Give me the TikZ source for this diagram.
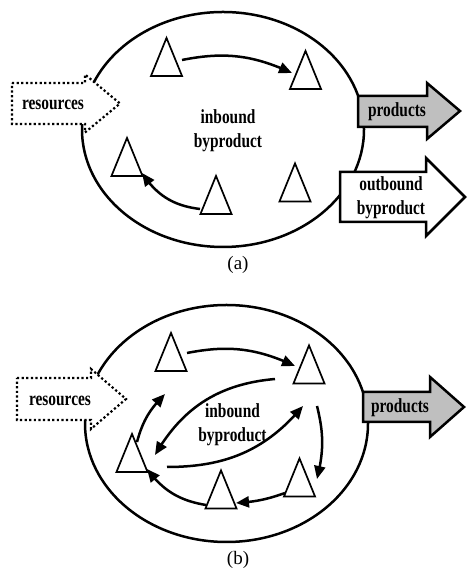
\documentclass[tikz,border=0pt]{standalone}
\usepackage{fontspec}
\setmainfont{Liberation Serif}
\newfontfamily\labfont[FakeStretch=0.77]{Liberation Serif}
\usetikzlibrary{arrows.meta,shapes.geometric,calc,bending}

\begin{document}
\begin{tikzpicture}[x=1pt,y=1pt,
  system/.style={draw, line width=2.5pt, ellipse, inner sep=0pt},
  tri/.style={draw, line width=1.7pt, fill=white, isosceles triangle,
    shape border rotate=90, isosceles triangle stretches,
    minimum width=31pt, minimum height=38pt, inner sep=0pt},
  flow/.style={line width=2.5pt, -{Triangle[length=13pt,width=11pt]}},
  lbl/.style={font=\labfont\bfseries\fontsize{20}{24}\selectfont, align=center, inner sep=0pt},
  subcaption/.style={font=\fontsize{19}{22}\selectfont, inner sep=0pt},
  inflow/.style={draw, line width=2.2pt, dash pattern=on 2.2pt off 2.4pt, fill=white},
  outflow/.style={draw, line width=2.5pt, fill=white, line join=miter},
  prodflow/.style={outflow, fill=gray!50},
]
\useasboundingbox (0,0) rectangle (466,569);

% ---------------- (a) open system ----------------
\node[system, minimum width=282pt, minimum height=235pt] (sysa) at (223,439.5) {};

\node[tri] (a1) at (166.5,503.5) {};
\node[tri] (a2) at (305.5,490.5) {};
\node[tri] (a3) at (127,403.5) {};
\node[tri] (a4) at (216,365.5) {};
\node[tri] (a5) at (295,378) {};

\draw[flow] ($(a1)+(15.5,5.5)$) to[bend left=18] ($(a2)+(-13.5,5.5)$);
\draw[flow] ($(a4)+(-16,-5.5)$) to[bend left=25] ($(a3)+(15,-7.5)$);

\node[lbl] (ina) at (228,438) {inbound\\byproduct};

% resources entering
\path[inflow] (12,486) -- (85,486) -- (85,494.5) -- (120,465.5)
  -- (85,436.5) -- (85,445) -- (12,445) -- cycle;
\node[lbl] (resa) at (53,464) {resources};

% products leaving
\path[prodflow] (358,473) -- (427,473) -- (427,486) -- (460,458)
  -- (427,430) -- (427,442) -- (358,442) -- cycle;
\node[lbl] (proda) at (397,457) {products};

% outbound byproduct leaving
\path[outflow] (340,397) -- (426,397) -- (426,411) -- (465,372)
  -- (426,333) -- (426,347) -- (340,347) -- cycle;
\node[lbl] (outa) at (391,371) {outbound\\byproduct};

\node[subcaption] (capa) at (238,304) {(a)};

% ---------------- (b) closed loop system ----------------
\node[system, minimum width=283pt, minimum height=237pt] (sysb) at (226.5,145.5) {};

\node[tri] (b1) at (171,208.5) {};
\node[tri] (b2) at (309,196) {};
\node[tri] (b3) at (132,107.5) {};
\node[tri] (b4) at (221,71) {};
\node[tri] (b5) at (299.5,83) {};

\draw[flow] ($(b1)+(16,7.5)$) to[bend left=18] ($(b2)+(-14,7)$);
\draw[flow] ($(b2)+(8,-33)$) to[bend left=14] ($(b5)+(17.5,7)$);
\draw[flow] ($(b5)+(-14.5,-7)$) to[bend left=8] ($(b4)+(15,-5)$);
\draw[flow] ($(b4)+(-15,-7)$) to[bend left=22] ($(b3)+(15,-7.5)$);
\draw[flow] ($(b3)+(5,19.5)$) to[bend left=15] ($(b1)+(-6,-33.5)$);
\draw[flow] ($(b2)+(-34,-6)$) to[out=185,in=60] ($(b3)+(23,6.5)$);
\draw[flow] ($(b3)+(35,-5.5)$) to[out=0,in=230] ($(b2)+(-6,-33)$);

\node[lbl] (inb) at (232.5,144) {inbound\\byproduct};

% resources entering
\path[inflow] (17,191) -- (91,191) -- (91,200) -- (126,170)
  -- (91,140) -- (91,149) -- (17,149) -- cycle;
\node[lbl] (resb) at (60,168) {resources};

% products leaving
\path[prodflow] (363,177) -- (430,177) -- (430,192) -- (464,162)
  -- (430,132) -- (430,147) -- (363,147) -- cycle;
\node[lbl] (prodb) at (400,161) {products};

\node[subcaption] (capb) at (238,9) {(b)};
\end{tikzpicture}
\end{document}
